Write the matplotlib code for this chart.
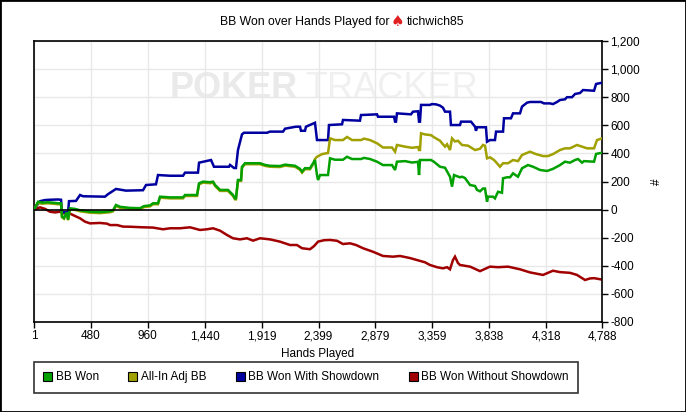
import matplotlib

matplotlib.use("Agg")
import matplotlib.pyplot as plt
from matplotlib.patches import Patch, Rectangle

plt.rcParams["font.family"] = ["Liberation Sans", "DejaVu Sans"]

# BB Won (green)
won_hands = [1, 35, 68, 119, 178, 203, 229, 237, 254, 271, 279, 288, 304, 347, 389, 473, 557,
             642, 667, 692, 726, 810, 894, 928, 979, 1004, 1046, 1063, 1147, 1257, 1274, 1375,
             1392, 1425, 1484, 1510, 1527, 1569, 1636, 1678, 1695, 1703, 1720, 1746, 1754, 1779,
             1906, 1948, 1990, 2074, 2117, 2201, 2243, 2260, 2285, 2327, 2361, 2369, 2386, 2395,
             2412, 2479, 2496, 2538, 2605, 2639, 2681, 2757, 2782, 2833, 2892, 2942, 3018, 3044,
             3060, 3128, 3187, 3237, 3246, 3254, 3347, 3372, 3423, 3465, 3507, 3524, 3541, 3558,
             3591, 3608, 3633, 3676, 3718, 3735, 3760, 3785, 3802, 3819, 3827, 3869, 3886, 3912,
             3945, 3954, 3987, 4013, 4038, 4080, 4114, 4164, 4207, 4266, 4325, 4375, 4434, 4476,
             4518, 4561, 4586, 4620, 4636, 4721, 4738, 4788]
won_bb = [0, 56, 50, 52, 48, 45, 45, -50, -60, -27, -27, -70, 9, 5, -5, -15, -18,
          -12, -5, 33, 20, 12, 10, 25, 30, 45, 45, 92, 87, 87, 104, 104,
          187, 199, 195, 199, 175, 140, 140, 104, 80, 80, 211, 211, 305, 330,
          330, 318, 312, 310, 320, 312, 290, 270, 295, 294, 341, 353, 246, 211,
          246, 246, 365, 355, 355, 376, 360, 360, 368, 360, 341, 317, 317, 282,
          341, 345, 335, 340, 246, 353, 353, 340, 305, 298, 234, 163, 246, 240,
          230, 234, 225, 175, 168, 140, 130, 150, 150, 56, 92, 92, 80, 127,
          120, 223, 230, 230, 258, 234, 294, 317, 305, 282, 275, 290, 317, 341,
          334, 353, 360, 334, 345, 341, 396, 405]

# All-In Adj BB (olive)
adj_hands = [1, 35, 68, 119, 178, 203, 229, 237, 254, 271, 279, 288, 304, 347, 389, 473, 557,
             642, 667, 692, 726, 810, 894, 928, 979, 1004, 1046, 1063, 1147, 1257, 1274, 1375,
             1392, 1425, 1484, 1510, 1527, 1569, 1636, 1678, 1695, 1703, 1720, 1746, 1754, 1779,
             1906, 1948, 1990, 2074, 2117, 2201, 2243, 2260, 2285, 2327, 2361, 2369, 2386, 2428,
             2479, 2496, 2538, 2605, 2639, 2681, 2757, 2782, 2833, 2892, 2942, 3018, 3044, 3060,
             3128, 3187, 3237, 3246, 3254, 3263, 3296, 3347, 3372, 3423, 3440, 3465, 3482, 3507,
             3524, 3549, 3574, 3608, 3659, 3718, 3760, 3785, 3802, 3819, 3844, 3878, 3903, 3928,
             3954, 3996, 4038, 4080, 4114, 4181, 4232, 4291, 4333, 4375, 4434, 4476, 4518, 4577,
             4620, 4662, 4721, 4746, 4788]
adj_bb = [0, 48, 42, 45, 40, 38, 38, -55, -65, -32, -32, -75, 2, -2, -12, -22, -25,
          -19, -12, 26, 13, 5, 3, 18, 23, 38, 38, 85, 80, 80, 97, 97,
          180, 192, 188, 192, 168, 133, 133, 97, 73, 73, 204, 204, 298, 323,
          323, 311, 305, 303, 313, 305, 283, 263, 288, 287, 334, 360, 376, 395,
          403, 507, 495, 495, 517, 495, 495, 505, 495, 472, 442, 442, 412, 460,
          448, 440, 445, 424, 424, 543, 535, 530, 515, 490, 472, 448, 465, 424,
          507, 485, 490, 460, 455, 424, 433, 460, 455, 365, 372, 353, 330, 305,
          330, 330, 353, 345, 389, 412, 395, 381, 381, 395, 424, 436, 436, 460,
          448, 436, 436, 495, 507]

# BB Won With Showdown (blue)
sd_hands = [1, 26, 52, 94, 136, 203, 229, 237, 262, 288, 296, 355, 389, 414, 599, 625, 692,
            776, 920, 945, 1029, 1046, 1147, 1257, 1274, 1383, 1392, 1493, 1518, 1644, 1653,
            1687, 1703, 1720, 1754, 1771, 1965, 1990, 2100, 2117, 2209, 2243, 2251, 2285, 2293,
            2369, 2386, 2479, 2487, 2597, 2605, 2748, 2757, 2892, 2900, 3035, 3044, 3052, 3060,
            3178, 3195, 3237, 3246, 3254, 3263, 3338, 3355, 3389, 3423, 3448, 3465, 3507, 3515,
            3591, 3600, 3684, 3718, 3726, 3735, 3810, 3819, 3844, 3886, 3895, 3954, 3962, 4021,
            4038, 4097, 4114, 4156, 4181, 4274, 4299, 4350, 4375, 4409, 4434, 4476, 4493, 4535,
            4561, 4603, 4628, 4721, 4738, 4788]
sd_bb = [0, 30, 60, 68, 70, 72, 70, -15, -20, -18, 60, 62, 104, 95, 92, 110, 147,
         135, 138, 175, 180, 246, 241, 241, 263, 263, 334, 353, 305, 305, 318,
         296, 296, 424, 536, 547, 547, 555, 555, 576, 590, 590, 561, 561, 590,
         618, 495, 495, 602, 607, 638, 633, 673, 678, 661, 661, 626, 626, 685,
         678, 697, 700, 626, 626, 745, 745, 751, 749, 740, 725, 697, 697, 602,
         602, 626, 626, 590, 561, 586, 586, 483, 495, 495, 555, 555, 650, 650,
         685, 685, 733, 761, 766, 766, 756, 756, 751, 766, 780, 785, 800, 800,
         823, 830, 851, 846, 894, 903]

# BB Won Without Showdown (red)
nsd_hands = [1, 52, 94, 136, 178, 220, 245, 288, 330, 389, 431, 473, 557, 616, 642, 701, 751,
             810, 920, 1004, 1088, 1147, 1231, 1316, 1400, 1459, 1510, 1569, 1628, 1678, 1737,
             1796, 1847, 1906, 1990, 2074, 2159, 2217, 2260, 2327, 2361, 2395, 2445, 2496, 2555,
             2605, 2664, 2715, 2774, 2858, 2942, 3027, 3086, 3170, 3254, 3296, 3338, 3397, 3448,
             3482, 3507, 3532, 3549, 3574, 3591, 3676, 3760, 3844, 3912, 3996, 4097, 4181, 4291,
             4375, 4434, 4518, 4577, 4645, 4687, 4721, 4788]
nsd_bb = [0, 16, 5, -15, -20, -15, -27, -22, -39, -62, -86, -98, -95, -100, -110, -110, -121,
          -122, -126, -128, -140, -133, -133, -126, -145, -140, -133, -150, -181, -204, -212,
          -204, -221, -204, -212, -228, -252, -252, -275, -282, -260, -228, -218, -216, -222,
          -245, -240, -252, -275, -300, -330, -335, -330, -345, -365, -375, -394, -410, -418,
          -410, -425, -359, -335, -380, -394, -406, -438, -406, -410, -406, -425, -447, -465,
          -435, -445, -450, -465, -501, -490, -488, -498]

x_ticks = [1, 480, 960, 1440, 1919, 2399, 2879, 3359, 3838, 4318, 4788]
y_ticks = list(range(-800, 1201, 200))

series = [
    ("BB Won", won_hands, won_bb, "#00a000", 5),
    ("All-In Adj BB", adj_hands, adj_bb, "#a0a000", 4),
    ("BB Won With Showdown", sd_hands, sd_bb, "#0000a0", 3),
    ("BB Won Without Showdown", nsd_hands, nsd_bb, "#a00000", 2),
]

fig = plt.figure(figsize=(6.86, 4.12), dpi=100)
ax = fig.add_axes([34 / 686, 1 - 322 / 412, 568 / 686, 281 / 412])

# watermark
ax.text(136 / 568, 0.83, "POKER", transform=ax.transAxes, fontsize=26, fontweight="bold",
        color="#eaeaea", ha="left", va="center", zorder=0)
ax.text(271 / 568, 0.83, "TRACKER", transform=ax.transAxes, fontsize=26,
        color="#f0f0f0", ha="left", va="center", zorder=0)

for label, xs, ys, color, z in series:
    ax.plot(xs, ys, color=color, lw=1.8, zorder=z, solid_joinstyle="miter")

ax.axhline(0, color="black", lw=1.2, zorder=6)
ax.set_xlim(1, 4788)
ax.set_ylim(-800, 1200)
ax.set_xticks(x_ticks, [f"{v:,}" for v in x_ticks])
ax.set_yticks(y_ticks, [f"{v:,}" for v in y_ticks])
ax.yaxis.tick_right()
ax.yaxis.set_label_position("right")
ax.grid(True, color="#e8e8e8", lw=1, zorder=0)
ax.set_axisbelow(True)
ax.tick_params(axis="both", labelsize=8.5, length=4, width=1, color="black", pad=2)
for sp in ax.spines.values():
    sp.set_color("black")
    sp.set_linewidth(1.2)
ax.set_xlabel("Hands Played", fontsize=8.5, labelpad=4)
ax.set_ylabel("#", fontsize=8.5, labelpad=8)

# title with red spade
fig.text(389 / 686, 1 - 22 / 412, "BB Won over Hands Played for", fontsize=8.8,
         ha="right", va="center")
fig.text(397 / 686, 1 - 22 / 412, "\u2660", fontsize=11, color="#e02020",
         ha="center", va="center", family="DejaVu Sans")
fig.text(407 / 686, 1 - 22 / 412, "tichwich85", fontsize=8.8, ha="left", va="center")

handles = [Patch(facecolor=c, edgecolor="black", lw=0.8, label=l) for l, _, _, c, _ in series]
leg = fig.legend(handles=handles, loc="upper left", bbox_to_anchor=(34 / 686, 1 - 362 / 412),
                 ncol=4, fontsize=8.5, frameon=True, fancybox=False, edgecolor="black",
                 handlelength=0.75, handleheight=0.75, handletextpad=0.3, columnspacing=2.5,
                 borderpad=0.8, borderaxespad=0)
leg.get_frame().set_linewidth(1.2)

fig.patches.append(Rectangle((0, 0), 1, 1, transform=fig.transFigure, fill=False,
                             edgecolor="black", lw=2))

fig.savefig("out.png", dpi=100)
